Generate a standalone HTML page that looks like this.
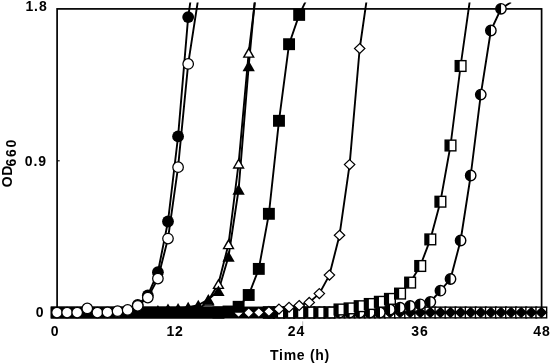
<!DOCTYPE html>
<html><head><meta charset="utf-8"><title>Growth curves</title>
<style>
html,body{margin:0;padding:0;background:#fff}
svg{display:block}
text{font-family:"Liberation Sans",Arial,sans-serif;font-weight:bold;font-size:14px;fill:#000;letter-spacing:0.9px}
</style></head>
<body>
<svg width="550" height="363" viewBox="0 0 550 363">
<rect width="550" height="363" fill="#fff"/>
<defs><clipPath id="c"><rect x="0" y="2.4" width="550" height="361"/></clipPath></defs>
<rect x="57.1" y="8.9" width="484.5" height="303.6" fill="none" stroke="#000" stroke-width="1.7"/>
<line x1="57.5" y1="160.8" x2="59.7" y2="160.8" stroke="#000" stroke-width="1.1"/>
<line x1="302.7" y1="321.3" x2="302.7" y2="336" stroke="#777" stroke-width="0.5"/>
<g clip-path="url(#c)">
<g><rect x="263.54" y="307.15" width="10.7" height="10.7" fill="#fff" stroke="#000" stroke-width="1.4"/><rect x="273.63" y="307.15" width="10.7" height="10.7" fill="#fff" stroke="#000" stroke-width="1.4"/><rect x="283.72" y="307.15" width="10.7" height="10.7" fill="#fff" stroke="#000" stroke-width="1.4"/><rect x="293.81" y="307.15" width="10.7" height="10.7" fill="#fff" stroke="#000" stroke-width="1.4"/><rect x="303.9" y="307.15" width="10.7" height="10.7" fill="#fff" stroke="#000" stroke-width="1.4"/><rect x="313.99" y="307.15" width="10.7" height="10.7" fill="#fff" stroke="#000" stroke-width="1.4"/><rect x="324.08" y="307.15" width="10.7" height="10.7" fill="#fff" stroke="#000" stroke-width="1.4"/><rect x="334.17" y="307.15" width="10.7" height="10.7" fill="#fff" stroke="#000" stroke-width="1.4"/><rect x="344.26" y="307.15" width="10.7" height="10.7" fill="#fff" stroke="#000" stroke-width="1.4"/><rect x="354.35" y="307.15" width="10.7" height="10.7" fill="#fff" stroke="#000" stroke-width="1.4"/><rect x="364.44" y="307.15" width="10.7" height="10.7" fill="#fff" stroke="#000" stroke-width="1.4"/><rect x="374.53" y="307.15" width="10.7" height="10.7" fill="#fff" stroke="#000" stroke-width="1.4"/><rect x="384.62" y="307.15" width="10.7" height="10.7" fill="#fff" stroke="#000" stroke-width="1.4"/><rect x="394.71" y="307.15" width="10.7" height="10.7" fill="#fff" stroke="#000" stroke-width="1.4"/><rect x="404.8" y="307.15" width="10.7" height="10.7" fill="#fff" stroke="#000" stroke-width="1.4"/><rect x="414.89" y="307.15" width="10.7" height="10.7" fill="#fff" stroke="#000" stroke-width="1.4"/><rect x="424.98" y="307.15" width="10.7" height="10.7" fill="#fff" stroke="#000" stroke-width="1.4"/><rect x="435.07" y="307.15" width="10.7" height="10.7" fill="#fff" stroke="#000" stroke-width="1.4"/><rect x="445.16" y="307.15" width="10.7" height="10.7" fill="#fff" stroke="#000" stroke-width="1.4"/><rect x="455.25" y="307.15" width="10.7" height="10.7" fill="#fff" stroke="#000" stroke-width="1.4"/><rect x="465.34" y="307.15" width="10.7" height="10.7" fill="#fff" stroke="#000" stroke-width="1.4"/><rect x="475.43" y="307.15" width="10.7" height="10.7" fill="#fff" stroke="#000" stroke-width="1.4"/><rect x="485.52" y="307.15" width="10.7" height="10.7" fill="#fff" stroke="#000" stroke-width="1.4"/><rect x="495.61" y="307.15" width="10.7" height="10.7" fill="#fff" stroke="#000" stroke-width="1.4"/><rect x="505.7" y="307.15" width="10.7" height="10.7" fill="#fff" stroke="#000" stroke-width="1.4"/><rect x="515.79" y="307.15" width="10.7" height="10.7" fill="#fff" stroke="#000" stroke-width="1.4"/><rect x="525.88" y="307.15" width="10.7" height="10.7" fill="#fff" stroke="#000" stroke-width="1.4"/><rect x="535.97" y="307.15" width="10.7" height="10.7" fill="#fff" stroke="#000" stroke-width="1.4"/><path d="M268.89 307.55L274.09 312.5L268.89 317.45L263.69 312.5Z" fill="#000" stroke="#000" stroke-width="1.2"/><path d="M278.98 307.55L284.18 312.5L278.98 317.45L273.78 312.5Z" fill="#000" stroke="#000" stroke-width="1.2"/><path d="M289.07 307.55L294.27 312.5L289.07 317.45L283.87 312.5Z" fill="#000" stroke="#000" stroke-width="1.2"/><path d="M299.16 307.55L304.36 312.5L299.16 317.45L293.96 312.5Z" fill="#000" stroke="#000" stroke-width="1.2"/><path d="M309.25 307.55L314.45 312.5L309.25 317.45L304.05 312.5Z" fill="#000" stroke="#000" stroke-width="1.2"/><path d="M319.34 307.55L324.54 312.5L319.34 317.45L314.14 312.5Z" fill="#000" stroke="#000" stroke-width="1.2"/><path d="M329.43 307.55L334.63 312.5L329.43 317.45L324.23 312.5Z" fill="#000" stroke="#000" stroke-width="1.2"/><path d="M339.52 307.55L344.72 312.5L339.52 317.45L334.32 312.5Z" fill="#000" stroke="#000" stroke-width="1.2"/><path d="M349.61 307.55L354.81 312.5L349.61 317.45L344.41 312.5Z" fill="#000" stroke="#000" stroke-width="1.2"/><path d="M359.7 307.55L364.9 312.5L359.7 317.45L354.5 312.5Z" fill="#000" stroke="#000" stroke-width="1.2"/><path d="M369.79 307.55L374.99 312.5L369.79 317.45L364.59 312.5Z" fill="#000" stroke="#000" stroke-width="1.2"/><path d="M379.88 307.55L385.08 312.5L379.88 317.45L374.68 312.5Z" fill="#000" stroke="#000" stroke-width="1.2"/><path d="M389.97 307.55L395.17 312.5L389.97 317.45L384.77 312.5Z" fill="#000" stroke="#000" stroke-width="1.2"/><path d="M400.06 307.55L405.26 312.5L400.06 317.45L394.86 312.5Z" fill="#000" stroke="#000" stroke-width="1.2"/><path d="M410.15 307.55L415.35 312.5L410.15 317.45L404.95 312.5Z" fill="#000" stroke="#000" stroke-width="1.2"/><path d="M420.24 307.55L425.44 312.5L420.24 317.45L415.04 312.5Z" fill="#000" stroke="#000" stroke-width="1.2"/><path d="M430.33 307.55L435.53 312.5L430.33 317.45L425.13 312.5Z" fill="#000" stroke="#000" stroke-width="1.2"/><path d="M440.42 307.55L445.62 312.5L440.42 317.45L435.22 312.5Z" fill="#000" stroke="#000" stroke-width="1.2"/><path d="M450.51 307.55L455.71 312.5L450.51 317.45L445.31 312.5Z" fill="#000" stroke="#000" stroke-width="1.2"/><path d="M460.6 307.55L465.8 312.5L460.6 317.45L455.4 312.5Z" fill="#000" stroke="#000" stroke-width="1.2"/><path d="M470.69 307.55L475.89 312.5L470.69 317.45L465.49 312.5Z" fill="#000" stroke="#000" stroke-width="1.2"/><path d="M480.78 307.55L485.98 312.5L480.78 317.45L475.58 312.5Z" fill="#000" stroke="#000" stroke-width="1.2"/><path d="M490.87 307.55L496.07 312.5L490.87 317.45L485.67 312.5Z" fill="#000" stroke="#000" stroke-width="1.2"/><path d="M500.96 307.55L506.16 312.5L500.96 317.45L495.76 312.5Z" fill="#000" stroke="#000" stroke-width="1.2"/><path d="M511.05 307.55L516.25 312.5L511.05 317.45L505.85 312.5Z" fill="#000" stroke="#000" stroke-width="1.2"/><path d="M521.14 307.55L526.34 312.5L521.14 317.45L515.94 312.5Z" fill="#000" stroke="#000" stroke-width="1.2"/><path d="M531.23 307.55L536.43 312.5L531.23 317.45L526.03 312.5Z" fill="#000" stroke="#000" stroke-width="1.2"/><path d="M541.32 307.55L546.52 312.5L541.32 317.45L536.12 312.5Z" fill="#000" stroke="#000" stroke-width="1.2"/></g>
<g><polyline points="268.89,312.5 278.98,312.5 289.07,312.5 299.16,312.5 309.25,312.5 319.34,312.5 329.43,312.5 339.52,312.5 349.61,312.5 359.7,312.5 369.79,312.5 379.88,312.5 389.97,309.5 400.06,307.7 410.15,306 420.24,304.3 430.33,302 440.42,290.7 450.51,279 460.6,240.5 470.69,175.5 480.78,94.6 490.87,30.5 500.96,8.8 511.05,2.2" fill="none" stroke="#000" stroke-width="1.9" stroke-linejoin="round"/><circle cx="268.89" cy="312.5" r="5.2" fill="#fff" stroke="#000" stroke-width="1.4"/><path d="M268.99 307.3A5.2 5.2 0 0 0 268.99 317.7Z" fill="#000"/><circle cx="278.98" cy="312.5" r="5.2" fill="#fff" stroke="#000" stroke-width="1.4"/><path d="M279.08 307.3A5.2 5.2 0 0 0 279.08 317.7Z" fill="#000"/><circle cx="289.07" cy="312.5" r="5.2" fill="#fff" stroke="#000" stroke-width="1.4"/><path d="M289.17 307.3A5.2 5.2 0 0 0 289.17 317.7Z" fill="#000"/><circle cx="299.16" cy="312.5" r="5.2" fill="#fff" stroke="#000" stroke-width="1.4"/><path d="M299.26 307.3A5.2 5.2 0 0 0 299.26 317.7Z" fill="#000"/><circle cx="309.25" cy="312.5" r="5.2" fill="#fff" stroke="#000" stroke-width="1.4"/><path d="M309.35 307.3A5.2 5.2 0 0 0 309.35 317.7Z" fill="#000"/><circle cx="319.34" cy="312.5" r="5.2" fill="#fff" stroke="#000" stroke-width="1.4"/><path d="M319.44 307.3A5.2 5.2 0 0 0 319.44 317.7Z" fill="#000"/><circle cx="329.43" cy="312.5" r="5.2" fill="#fff" stroke="#000" stroke-width="1.4"/><path d="M329.53 307.3A5.2 5.2 0 0 0 329.53 317.7Z" fill="#000"/><circle cx="339.52" cy="312.5" r="5.2" fill="#fff" stroke="#000" stroke-width="1.4"/><path d="M339.62 307.3A5.2 5.2 0 0 0 339.62 317.7Z" fill="#000"/><circle cx="349.61" cy="312.5" r="5.2" fill="#fff" stroke="#000" stroke-width="1.4"/><path d="M349.71 307.3A5.2 5.2 0 0 0 349.71 317.7Z" fill="#000"/><circle cx="359.7" cy="312.5" r="5.2" fill="#fff" stroke="#000" stroke-width="1.4"/><path d="M359.8 307.3A5.2 5.2 0 0 0 359.8 317.7Z" fill="#000"/><circle cx="369.79" cy="312.5" r="5.2" fill="#fff" stroke="#000" stroke-width="1.4"/><path d="M369.89 307.3A5.2 5.2 0 0 0 369.89 317.7Z" fill="#000"/><circle cx="379.88" cy="312.5" r="5.2" fill="#fff" stroke="#000" stroke-width="1.4"/><path d="M379.98 307.3A5.2 5.2 0 0 0 379.98 317.7Z" fill="#000"/><circle cx="389.97" cy="309.5" r="5.2" fill="#fff" stroke="#000" stroke-width="1.4"/><path d="M390.07 304.3A5.2 5.2 0 0 0 390.07 314.7Z" fill="#000"/><circle cx="400.06" cy="307.7" r="5.2" fill="#fff" stroke="#000" stroke-width="1.4"/><path d="M400.16 302.5A5.2 5.2 0 0 0 400.16 312.9Z" fill="#000"/><circle cx="410.15" cy="306" r="5.2" fill="#fff" stroke="#000" stroke-width="1.4"/><path d="M410.25 300.8A5.2 5.2 0 0 0 410.25 311.2Z" fill="#000"/><circle cx="420.24" cy="304.3" r="5.2" fill="#fff" stroke="#000" stroke-width="1.4"/><path d="M420.34 299.1A5.2 5.2 0 0 0 420.34 309.5Z" fill="#000"/><circle cx="430.33" cy="302" r="5.2" fill="#fff" stroke="#000" stroke-width="1.4"/><path d="M430.43 296.8A5.2 5.2 0 0 0 430.43 307.2Z" fill="#000"/><circle cx="440.42" cy="290.7" r="5.2" fill="#fff" stroke="#000" stroke-width="1.4"/><path d="M440.52 285.5A5.2 5.2 0 0 0 440.52 295.9Z" fill="#000"/><circle cx="450.51" cy="279" r="5.2" fill="#fff" stroke="#000" stroke-width="1.4"/><path d="M450.61 273.8A5.2 5.2 0 0 0 450.61 284.2Z" fill="#000"/><circle cx="460.6" cy="240.5" r="5.2" fill="#fff" stroke="#000" stroke-width="1.4"/><path d="M460.7 235.3A5.2 5.2 0 0 0 460.7 245.7Z" fill="#000"/><circle cx="470.69" cy="175.5" r="5.2" fill="#fff" stroke="#000" stroke-width="1.4"/><path d="M470.79 170.3A5.2 5.2 0 0 0 470.79 180.7Z" fill="#000"/><circle cx="480.78" cy="94.6" r="5.2" fill="#fff" stroke="#000" stroke-width="1.4"/><path d="M480.88 89.4A5.2 5.2 0 0 0 480.88 99.8Z" fill="#000"/><circle cx="490.87" cy="30.5" r="5.2" fill="#fff" stroke="#000" stroke-width="1.4"/><path d="M490.97 25.3A5.2 5.2 0 0 0 490.97 35.7Z" fill="#000"/><circle cx="500.96" cy="8.8" r="5.2" fill="#fff" stroke="#000" stroke-width="1.4"/><path d="M501.06 3.6A5.2 5.2 0 0 0 501.06 14.0Z" fill="#000"/></g>
<g><polyline points="268.89,312.5 278.98,312.5 289.07,312.5 299.16,312.5 309.25,312.5 319.34,312.5 329.43,312.5 339.52,309.5 349.61,308.4 359.7,306.2 369.79,304 379.88,301.8 389.97,298.9 400.06,293.6 410.15,282.6 420.24,266 430.33,239.4 440.42,201.7 450.51,145.5 460.6,66 470.69,-5.5" fill="none" stroke="#000" stroke-width="1.9" stroke-linejoin="round"/><rect x="263.54" y="307.15" width="10.7" height="10.7" fill="#fff" stroke="#000" stroke-width="1.4"/><rect x="263.54" y="307.15" width="4.45" height="10.7" fill="#000"/><rect x="273.63" y="307.15" width="10.7" height="10.7" fill="#fff" stroke="#000" stroke-width="1.4"/><rect x="273.63" y="307.15" width="4.45" height="10.7" fill="#000"/><rect x="283.72" y="307.15" width="10.7" height="10.7" fill="#fff" stroke="#000" stroke-width="1.4"/><rect x="283.72" y="307.15" width="4.45" height="10.7" fill="#000"/><rect x="293.81" y="307.15" width="10.7" height="10.7" fill="#fff" stroke="#000" stroke-width="1.4"/><rect x="293.81" y="307.15" width="4.45" height="10.7" fill="#000"/><rect x="303.9" y="307.15" width="10.7" height="10.7" fill="#fff" stroke="#000" stroke-width="1.4"/><rect x="303.9" y="307.15" width="4.45" height="10.7" fill="#000"/><rect x="313.99" y="307.15" width="10.7" height="10.7" fill="#fff" stroke="#000" stroke-width="1.4"/><rect x="313.99" y="307.15" width="4.45" height="10.7" fill="#000"/><rect x="324.08" y="307.15" width="10.7" height="10.7" fill="#fff" stroke="#000" stroke-width="1.4"/><rect x="324.08" y="307.15" width="4.45" height="10.7" fill="#000"/><rect x="334.17" y="304.15" width="10.7" height="10.7" fill="#fff" stroke="#000" stroke-width="1.4"/><rect x="334.17" y="304.15" width="4.45" height="10.7" fill="#000"/><rect x="344.26" y="303.05" width="10.7" height="10.7" fill="#fff" stroke="#000" stroke-width="1.4"/><rect x="344.26" y="303.05" width="4.45" height="10.7" fill="#000"/><rect x="354.35" y="300.85" width="10.7" height="10.7" fill="#fff" stroke="#000" stroke-width="1.4"/><rect x="354.35" y="300.85" width="4.45" height="10.7" fill="#000"/><rect x="364.44" y="298.65" width="10.7" height="10.7" fill="#fff" stroke="#000" stroke-width="1.4"/><rect x="364.44" y="298.65" width="4.45" height="10.7" fill="#000"/><rect x="374.53" y="296.45" width="10.7" height="10.7" fill="#fff" stroke="#000" stroke-width="1.4"/><rect x="374.53" y="296.45" width="4.45" height="10.7" fill="#000"/><rect x="384.62" y="293.55" width="10.7" height="10.7" fill="#fff" stroke="#000" stroke-width="1.4"/><rect x="384.62" y="293.55" width="4.45" height="10.7" fill="#000"/><rect x="394.71" y="288.25" width="10.7" height="10.7" fill="#fff" stroke="#000" stroke-width="1.4"/><rect x="394.71" y="288.25" width="4.45" height="10.7" fill="#000"/><rect x="404.8" y="277.25" width="10.7" height="10.7" fill="#fff" stroke="#000" stroke-width="1.4"/><rect x="404.8" y="277.25" width="4.45" height="10.7" fill="#000"/><rect x="414.89" y="260.65" width="10.7" height="10.7" fill="#fff" stroke="#000" stroke-width="1.4"/><rect x="414.89" y="260.65" width="4.45" height="10.7" fill="#000"/><rect x="424.98" y="234.05" width="10.7" height="10.7" fill="#fff" stroke="#000" stroke-width="1.4"/><rect x="424.98" y="234.05" width="4.45" height="10.7" fill="#000"/><rect x="435.07" y="196.35" width="10.7" height="10.7" fill="#fff" stroke="#000" stroke-width="1.4"/><rect x="435.07" y="196.35" width="4.45" height="10.7" fill="#000"/><rect x="445.16" y="140.15" width="10.7" height="10.7" fill="#fff" stroke="#000" stroke-width="1.4"/><rect x="445.16" y="140.15" width="4.45" height="10.7" fill="#000"/><rect x="455.25" y="60.65" width="10.7" height="10.7" fill="#fff" stroke="#000" stroke-width="1.4"/><rect x="455.25" y="60.65" width="4.45" height="10.7" fill="#000"/></g>
<rect x="50.7" y="306.55" width="223.74" height="11.95" fill="#000"/>
<g><polyline points="127.63,312.5 137.72,305 147.81,295.5 157.9,272.2 167.99,221.5 178.08,136.4 188.17,17.1 198.26,-53" fill="none" stroke="#000" stroke-width="1.9" stroke-linejoin="round"/><circle cx="137.72" cy="305" r="5.9" fill="#000"/><circle cx="147.81" cy="295.5" r="5.9" fill="#000"/><circle cx="157.9" cy="272.2" r="5.9" fill="#000"/><circle cx="167.99" cy="221.5" r="5.9" fill="#000"/><circle cx="178.08" cy="136.4" r="5.9" fill="#000"/><circle cx="188.17" cy="17.1" r="5.9" fill="#000"/></g>
<g><polyline points="147.81,312.5 157.9,310.5 167.99,309 178.08,308.4 188.17,307.2 198.26,305.2 208.35,299.5 218.44,290.8 228.53,256.5 238.62,189.5 248.71,66 258.8,-42" fill="none" stroke="#000" stroke-width="1.9" stroke-linejoin="round"/></g>
<g><polyline points="188.17,312.5 198.26,310 208.35,300.5 218.44,283.8 228.53,244 238.62,163.4 248.71,52.5 258.8,-30" fill="none" stroke="#000" stroke-width="1.9" stroke-linejoin="round"/><path d="M198.26 304.6L204.41 315.3H192.11Z" fill="#000"/><path d="M198.26 307.4L202.01 313.9H194.51Z" fill="#fff"/><path d="M208.35 295.1L214.5 305.8H202.2Z" fill="#000"/><path d="M208.35 297.9L212.1 304.4H204.6Z" fill="#fff"/><path d="M218.44 278.4L224.59 289.1H212.29Z" fill="#000"/><path d="M218.44 281.2L222.19 287.7H214.69Z" fill="#fff"/><path d="M228.53 238.6L234.68 249.3H222.38Z" fill="#000"/><path d="M228.53 241.4L232.28 247.9H224.78Z" fill="#fff"/><path d="M238.62 158.0L244.77 168.7H232.47Z" fill="#000"/><path d="M238.62 160.8L242.37 167.3H234.87Z" fill="#fff"/><path d="M248.71 47.1L254.86 57.8H242.56Z" fill="#000"/><path d="M248.71 49.9L252.46 56.4H244.96Z" fill="#fff"/></g>
<g><path d="M157.9 305.1L164.05 315.8H151.75Z" fill="#000"/><path d="M167.99 303.6L174.14 314.3H161.84Z" fill="#000"/><path d="M178.08 303.0L184.23 313.7H171.93Z" fill="#000"/><path d="M188.17 301.8L194.32 312.5H182.02Z" fill="#000"/><path d="M198.26 299.8L204.41 310.5H192.11Z" fill="#000"/><path d="M208.35 294.1L214.5 304.8H202.2Z" fill="#000"/><path d="M218.44 285.4L224.59 296.1H212.29Z" fill="#000"/><path d="M228.53 251.1L234.68 261.8H222.38Z" fill="#000"/><path d="M238.62 184.1L244.77 194.8H232.47Z" fill="#000"/><path d="M248.71 60.6L254.86 71.3H242.56Z" fill="#000"/></g>
<rect x="50.7" y="306.55" width="173.69" height="11.95" fill="#000"/>
<g><polyline points="238.62,312.5 248.71,312.7 258.8,312.5 268.89,311.5 278.98,309.1 289.07,307.3 299.16,305.5 309.25,302.4 319.34,293.6 329.43,275.1 339.52,235.2 349.61,164.6 359.7,48.5 369.79,-21.7" fill="none" stroke="#000" stroke-width="1.9" stroke-linejoin="round"/><path d="M238.62 307.55L243.82 312.5L238.62 317.45L233.42 312.5Z" fill="#fff" stroke="#000" stroke-width="1.2"/><path d="M248.71 307.75L253.91 312.7L248.71 317.65L243.51 312.7Z" fill="#fff" stroke="#000" stroke-width="1.2"/><path d="M258.8 307.55L264.0 312.5L258.8 317.45L253.6 312.5Z" fill="#fff" stroke="#000" stroke-width="1.2"/><path d="M268.89 306.55L274.09 311.5L268.89 316.45L263.69 311.5Z" fill="#fff" stroke="#000" stroke-width="1.2"/><path d="M278.98 304.15L284.18 309.1L278.98 314.05L273.78 309.1Z" fill="#fff" stroke="#000" stroke-width="1.2"/><path d="M289.07 302.35L294.27 307.3L289.07 312.25L283.87 307.3Z" fill="#fff" stroke="#000" stroke-width="1.2"/><path d="M299.16 300.55L304.36 305.5L299.16 310.45L293.96 305.5Z" fill="#fff" stroke="#000" stroke-width="1.2"/><path d="M309.25 297.45L314.45 302.4L309.25 307.35L304.05 302.4Z" fill="#fff" stroke="#000" stroke-width="1.2"/><path d="M319.34 288.65L324.54 293.6L319.34 298.55L314.14 293.6Z" fill="#fff" stroke="#000" stroke-width="1.2"/><path d="M329.43 270.15L334.63 275.1L329.43 280.05L324.23 275.1Z" fill="#fff" stroke="#000" stroke-width="1.2"/><path d="M339.52 230.25L344.72 235.2L339.52 240.15L334.32 235.2Z" fill="#fff" stroke="#000" stroke-width="1.2"/><path d="M349.61 159.65L354.81 164.6L349.61 169.55L344.41 164.6Z" fill="#fff" stroke="#000" stroke-width="1.2"/><path d="M359.7 43.55L364.9 48.5L359.7 53.45L354.5 48.5Z" fill="#fff" stroke="#000" stroke-width="1.2"/></g>
<g><polyline points="218.44,312.5 228.53,311.5 238.62,306.8 248.71,295 258.8,268.9 268.89,213.8 278.98,120.8 289.07,44.2 299.16,14.9 309.25,-6" fill="none" stroke="#000" stroke-width="1.9" stroke-linejoin="round"/><rect x="212.49" y="306.55" width="11.9" height="11.9" fill="#000"/><rect x="222.58" y="305.55" width="11.9" height="11.9" fill="#000"/><rect x="232.67" y="300.85" width="11.9" height="11.9" fill="#000"/><rect x="242.76" y="289.05" width="11.9" height="11.9" fill="#000"/><rect x="252.85" y="262.95" width="11.9" height="11.9" fill="#000"/><rect x="262.94" y="207.85" width="11.9" height="11.9" fill="#000"/><rect x="273.03" y="114.85" width="11.9" height="11.9" fill="#000"/><rect x="283.12" y="38.25" width="11.9" height="11.9" fill="#000"/><rect x="293.21" y="8.95" width="11.9" height="11.9" fill="#000"/></g>
<g><polyline points="57.0,312.5 67.09,312.5 77.18,312.5 87.27,308.4 97.36,312.5 107.45,312.3 117.54,311.2 127.63,309.9 137.72,305.8 147.81,297.6 157.9,278.5 167.99,238.6 178.08,167.2 188.17,63.9 198.26,-1.5" fill="none" stroke="#000" stroke-width="1.9" stroke-linejoin="round"/><circle cx="57.0" cy="312.5" r="5.25" fill="#fff" stroke="#000" stroke-width="1.25"/><circle cx="67.09" cy="312.5" r="5.25" fill="#fff" stroke="#000" stroke-width="1.25"/><circle cx="77.18" cy="312.5" r="5.25" fill="#fff" stroke="#000" stroke-width="1.25"/><circle cx="87.27" cy="308.4" r="5.25" fill="#fff" stroke="#000" stroke-width="1.25"/><circle cx="97.36" cy="312.5" r="5.25" fill="#fff" stroke="#000" stroke-width="1.25"/><circle cx="107.45" cy="312.3" r="5.25" fill="#fff" stroke="#000" stroke-width="1.25"/><circle cx="117.54" cy="311.2" r="5.25" fill="#fff" stroke="#000" stroke-width="1.25"/><circle cx="127.63" cy="309.9" r="5.25" fill="#fff" stroke="#000" stroke-width="1.25"/><circle cx="137.72" cy="305.8" r="5.25" fill="#fff" stroke="#000" stroke-width="1.25"/><circle cx="147.81" cy="297.6" r="5.25" fill="#fff" stroke="#000" stroke-width="1.25"/><circle cx="157.9" cy="278.5" r="5.25" fill="#fff" stroke="#000" stroke-width="1.25"/><circle cx="167.99" cy="238.6" r="5.25" fill="#fff" stroke="#000" stroke-width="1.25"/><circle cx="178.08" cy="167.2" r="5.25" fill="#fff" stroke="#000" stroke-width="1.25"/><circle cx="188.17" cy="63.9" r="5.25" fill="#fff" stroke="#000" stroke-width="1.25"/></g>
</g>
<text x="47.6" y="10.7" text-anchor="end">1.8</text>
<text x="47" y="165.6" text-anchor="end">0.9</text>
<text x="44.4" y="317" text-anchor="end">0</text>
<text x="55.1" y="336" text-anchor="middle">0</text>
<text x="175.1" y="336" text-anchor="middle">12</text>
<text x="296.5" y="336" text-anchor="middle">24</text>
<text x="419.9" y="336" text-anchor="middle">36</text>
<text x="541.9" y="336" text-anchor="middle">48</text>
<text x="300" y="359.8" text-anchor="middle" style="letter-spacing:0.7px">Time (h)</text>
<text transform="translate(11.8,187.3) rotate(-90)" style="letter-spacing:0.6px">OD<tspan dx="-1.4" dy="3.8" style="letter-spacing:1.7px">660</tspan></text>
</svg>
</body></html>
